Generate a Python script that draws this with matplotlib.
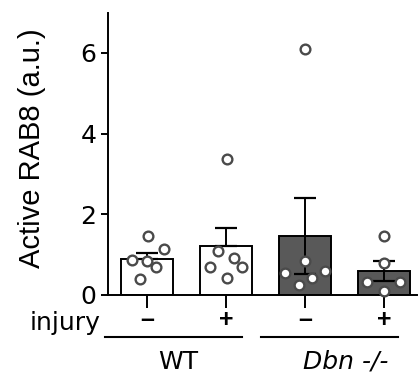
import numpy as np
import matplotlib as mpl
mpl.use('Agg')
import matplotlib.pyplot as plt

plt.rcParams['font.family'] = ['DejaVu Sans']

# Group data
injury = ['\u2013', '+', '\u2013', '+']
means = [0.89, 1.20, 1.46, 0.59]
err_up = [0.16, 0.45, 0.93, 0.25]
err_down = [0.0, 0.0, 0.93, 0.25]
bar_colors = ['white', 'white', '#595959', '#595959']

# individual points (value, horizontal jitter)
pts_wt_ctrl = [1.46, 1.13, 0.87, 0.83, 0.70, 0.40]
jit_wt_ctrl = [0.01, 0.21, -0.19, 0.0, 0.11, -0.09]
pts_wt_inj = [3.37, 1.09, 0.91, 0.70, 0.70, 0.41]
jit_wt_inj = [0.01, -0.10, 0.10, 0.20, -0.20, 0.01]
pts_ko_ctrl = [6.10, 0.84, 0.55, 0.60, 0.41, 0.25]
jit_ko_ctrl = [0.0, 0.0, -0.25, 0.25, 0.09, -0.08]
pts_ko_inj = [1.47, 0.80, 0.33, 0.33, 0.10]
jit_ko_inj = [0.0, 0.0, -0.21, 0.20, 0.0]

points = [pts_wt_ctrl, pts_wt_inj, pts_ko_ctrl, pts_ko_inj]
jitter = [jit_wt_ctrl, jit_wt_inj, jit_ko_ctrl, jit_ko_inj]

genotypes = ['WT', 'Dbn -/-']

fig = plt.figure(figsize=(4.2, 3.8), dpi=100)
ax = fig.add_axes([0.256, 0.224, 0.737, 0.743])

x = np.arange(len(means))
ax.bar(x, means, width=0.66, color=bar_colors, edgecolor='black',
       linewidth=1.4, zorder=2)
ax.errorbar(x, means, yerr=[err_down, err_up], fmt='none', ecolor='black',
            elinewidth=1.4, capsize=8, capthick=1.6, zorder=3)

for i in range(len(points)):
    xs = x[i] + np.array(jitter[i])
    ax.plot(xs, points[i], 'o', ms=7, mfc='white', mec='#4a4a4a',
            mew=1.7, zorder=4, clip_on=False)

ax.set_xlim(-0.5, 3.42)
ax.set_ylim(0, 7)
ax.set_yticks([0, 2, 4, 6])
ax.set_xticks(x)
ax.set_xticklabels([])
ax.tick_params(axis='y', labelsize=18, width=1.4, length=5, pad=3)
ax.tick_params(axis='x', width=1.4, length=9)
ax.spines['top'].set_visible(False)
ax.spines['right'].set_visible(False)
for s in ['left', 'bottom']:
    ax.spines[s].set_linewidth(1.4)

ax.set_ylabel('Active RAB8 (a.u.)', fontsize=21, family='Liberation Sans')
ax.yaxis.set_label_coords(-0.2, 0.52)

# injury row and genotype group labels under the axis
tr = ax.get_xaxis_transform()
ax.text(-0.59, -0.125, 'injury', transform=tr, ha='right', va='baseline',
        fontsize=18, clip_on=False)
for i in range(len(injury)):
    ax.text(x[i], -0.088, injury[i], transform=tr, ha='center', va='center',
            fontsize=18, fontweight='bold', family='Liberation Sans',
            clip_on=False)

ax.plot([-0.53, 1.2], [-0.148, -0.148], transform=tr, color='black',
        lw=1.5, clip_on=False)
ax.plot([1.44, 3.18], [-0.148, -0.148], transform=tr, color='black',
        lw=1.5, clip_on=False)
ax.text(0.40, -0.236, genotypes[0], transform=tr, ha='center', va='center',
        fontsize=18, clip_on=False)
ax.text(2.52, -0.236, genotypes[1], transform=tr, ha='center', va='center',
        fontsize=18, style='italic', clip_on=False)

plt.savefig('out.png', dpi=100)
plt.close()
